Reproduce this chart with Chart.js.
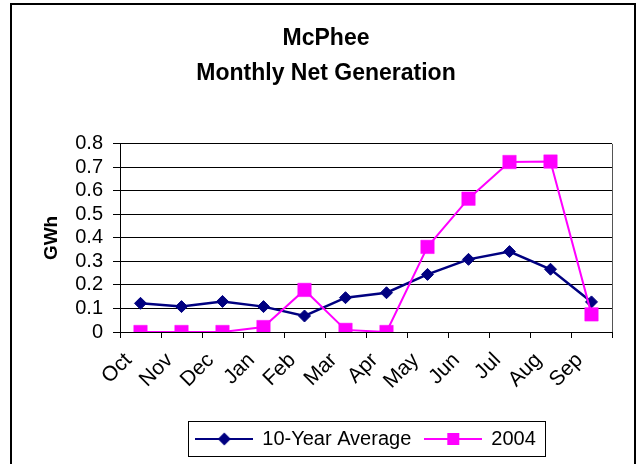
<!DOCTYPE html>
<html>
<head>
<meta charset="utf-8">
<script src="https://cdn.jsdelivr.net/npm/chart.js@4"></script>
<style>
  html, body { margin: 0; padding: 0; background: #fff; overflow: hidden; }
  #wrap { position: relative; width: 637px; height: 464px; }
  #frame {
    position: absolute; left: 10px; top: 3px; width: 622px; height: 480px;
    border: 2px solid #000; pointer-events: none;
  }
</style>
</head>
<body>
<div id="wrap">
  <canvas id="chart" width="637" height="464"></canvas>
  <div id="frame"></div>
</div>
<script>
const months = ["Oct", "Nov", "Dec", "Jan", "Feb", "Mar", "Apr", "May", "Jun", "Jul", "Aug", "Sep"];
const avg10 = [0.122, 0.108, 0.13, 0.108, 0.068, 0.146, 0.167, 0.245, 0.309, 0.342, 0.267, 0.128];
const gen2004 = [0, 0, 0, 0.021, 0.179, 0.009, 0, 0.362, 0.567, 0.723, 0.725, 0.075];
const yTicks = [0, 0.1, 0.2, 0.3, 0.4, 0.5, 0.6, 0.7, 0.8];

const FONT = "'Liberation Sans', Arial, sans-serif";
const NAVY = "#000080";
const PINK = "#FF00FF";

// little line + marker pictures for the legend
function legendSymbol(color, shape) {
  const c = document.createElement("canvas");
  c.width = 58; c.height = 16;
  const g = c.getContext("2d");
  g.strokeStyle = color;
  g.lineWidth = 2;
  g.beginPath(); g.moveTo(0, 8); g.lineTo(58, 8); g.stroke();
  g.fillStyle = color;
  g.beginPath();
  if (shape === "diamond") {
    g.moveTo(29, 1.5); g.lineTo(35.5, 8); g.lineTo(29, 14.5); g.lineTo(22.5, 8);
  } else {
    g.rect(23, 2, 12, 12);
  }
  g.closePath(); g.fill();
  return c;
}

// legend sits centred under the plot area, inside a thin box
const legendFrame = {
  id: "legendFrame",
  afterUpdate(chart) {
    const L = chart.legend;
    if (!L || !L.legendHitBoxes) return;
    const a = chart.chartArea;
    const s = (a.left + a.right) / 2 - (L.left + L.right) / 2;
    L.left += s; L.right += s;
    L.legendHitBoxes.forEach(h => { h.left += s; });
  },
  afterDraw(chart) {
    const boxes = chart.legend?.legendHitBoxes;
    if (!boxes || !boxes.length) return;
    const left = Math.min(...boxes.map(b => b.left)) - 8;
    const right = Math.max(...boxes.map(b => b.left + b.width)) + 10;
    const top = Math.min(...boxes.map(b => b.top)) - 8;
    const bottom = Math.max(...boxes.map(b => b.top + b.height)) + 7;
    const ctx = chart.ctx;
    ctx.save();
    ctx.strokeStyle = "#000";
    ctx.lineWidth = 1;
    ctx.strokeRect(Math.round(left) + 0.5, Math.round(top) + 0.5, Math.round(right - left), Math.round(bottom - top));
    ctx.restore();
  }
};

const plotFrame = {
  id: "plotFrame",
  beforeDatasetsDraw(chart) {
    const a = chart.chartArea;
    const ctx = chart.ctx;
    ctx.save();
    ctx.strokeStyle = "#555";
    ctx.lineWidth = 1;
    ctx.beginPath();
    ctx.moveTo(Math.round(a.right) + 0.5, a.top);
    ctx.lineTo(Math.round(a.right) + 0.5, a.bottom);
    ctx.stroke();
    ctx.restore();
  }
};

new Chart(document.getElementById("chart").getContext("2d"), {
  type: "line",
  data: {
    labels: months,
    datasets: [
      {
        label: "10-Year Average",
        data: avg10,
        borderColor: NAVY,
        backgroundColor: NAVY,
        borderWidth: 2.5,
        pointStyle: "rectRot",
        pointRadius: 6,
        pointBorderWidth: 1,
        tension: 0,
        order: 1
      },
      {
        label: "2004",
        data: gen2004,
        borderColor: PINK,
        backgroundColor: PINK,
        borderWidth: 2,
        pointStyle: "rect",
        pointRadius: 9.5,
        pointBorderWidth: 0.5,
        tension: 0,
        order: 0
      }
    ]
  },
  options: {
    responsive: false,
    animation: false,
    devicePixelRatio: 1,
    layout: { padding: { left: 40, right: 25, top: 0, bottom: 5 } },
    plugins: {
      title: {
        display: true,
        text: ["McPhee", "Monthly Net Generation"],
        color: "#000",
        font: { family: FONT, size: 23, weight: "bold", lineHeight: 1.52 },
        padding: { top: 21, bottom: 53 }
      },
      legend: {
        position: "bottom",
        labels: {
          usePointStyle: true,
          pointStyleWidth: 56,
          color: "#000",
          padding: 14,
          font: { family: FONT, size: 20 },
          generateLabels: () => [
            { text: "10-Year Average", pointStyle: legendSymbol(NAVY, "diamond"), fillStyle: NAVY, strokeStyle: NAVY, lineWidth: 0, fontColor: "#000", datasetIndex: 0, hidden: false },
            { text: "2004", pointStyle: legendSymbol(PINK, "square"), fillStyle: PINK, strokeStyle: PINK, lineWidth: 0, fontColor: "#000", datasetIndex: 1, hidden: false }
          ]
        }
      },
      tooltip: { enabled: false }
    },
    scales: {
      x: {
        offset: true,
        afterFit: (scale) => { scale.height = 83; },
        grid: { offset: true, drawOnChartArea: false, drawTicks: true, tickLength: 6, color: "#000" },
        border: { color: "#000", width: 1 },
        ticks: {
          color: "#000",
          font: { family: FONT, size: 21 },
          minRotation: 45,
          maxRotation: 45,
          autoSkip: false,
          padding: 10,
          labelOffset: -12
        }
      },
      y: {
        min: 0,
        max: 0.8,
        afterBuildTicks: (scale) => { scale.ticks = yTicks.map(v => ({ value: v })); },
        afterFit: (scale) => { scale.width = 80; },
        grid: { color: "#000", tickLength: 7, lineWidth: 1 },
        border: { color: "#000", width: 1 },
        ticks: {
          color: "#000",
          font: { family: FONT, size: 20 },
          padding: 10,
          autoSkip: false,
          callback: (v) => String(+Number(v).toFixed(1))
        },
        title: {
          display: true,
          text: "GWh",
          color: "#000",
          font: { family: FONT, size: 19, weight: "bold" },
          padding: { top: 0, bottom: 14 }
        }
      }
    }
  },
  plugins: [legendFrame, plotFrame]
});
</script>
</body>
</html>
